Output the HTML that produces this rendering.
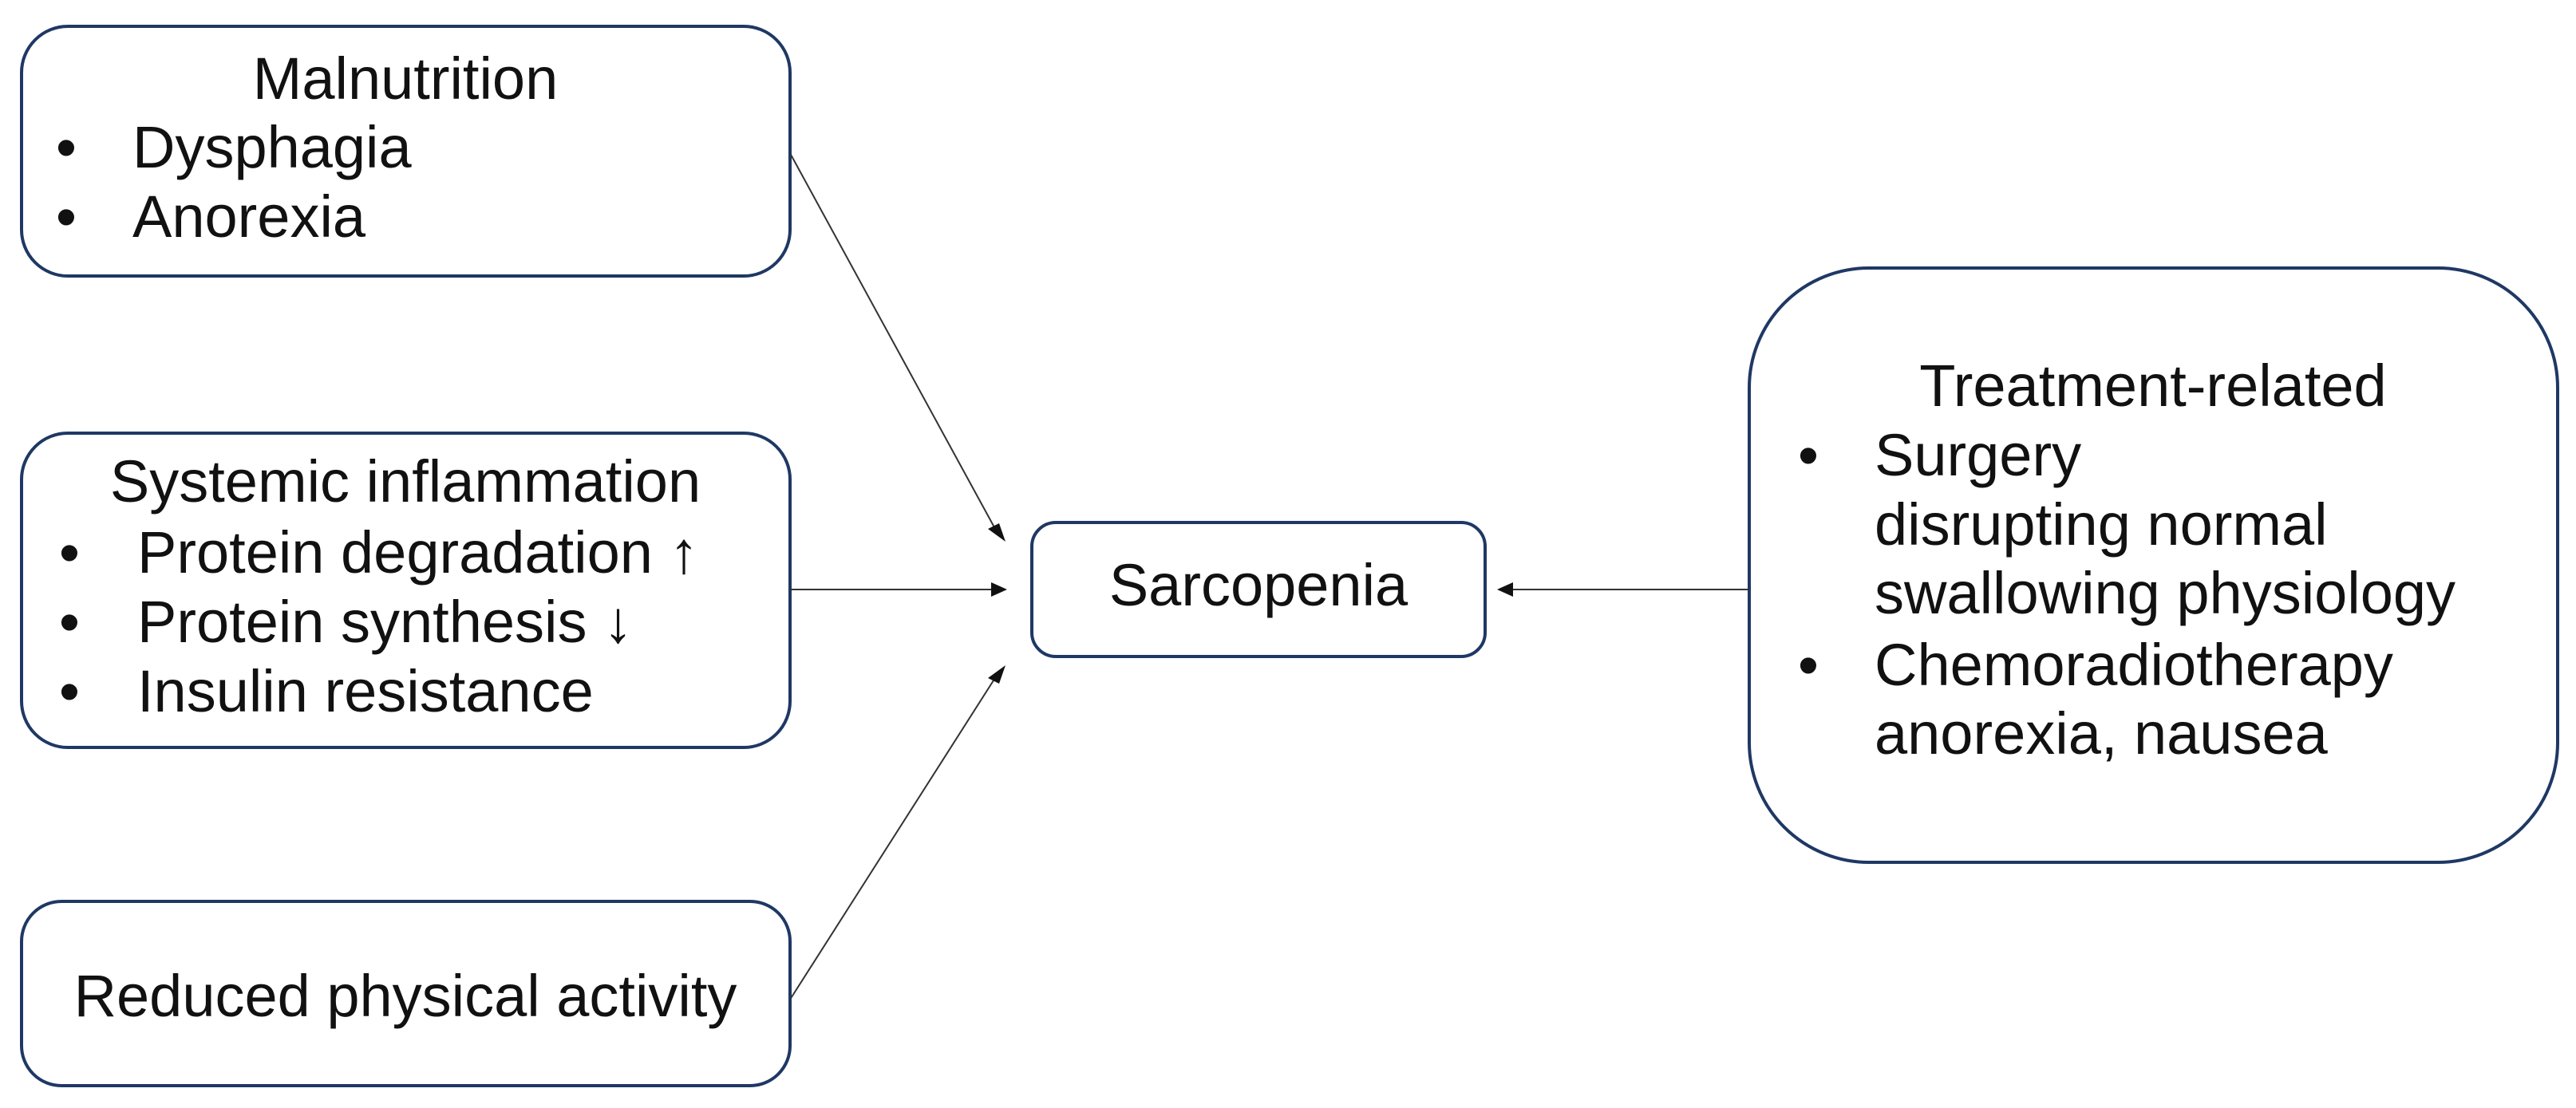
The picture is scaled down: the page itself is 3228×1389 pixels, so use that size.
<!DOCTYPE html>
<html><head><meta charset="utf-8"><style>
html,body{margin:0;padding:0;background:#fff;}
svg{display:block;}
text{font-family:"Liberation Sans","DejaVu Sans",sans-serif;fill:#111;}
</style></head><body>
<svg width="3228" height="1389" viewBox="0 0 3228 1389" xmlns="http://www.w3.org/2000/svg">
<defs>
<marker id="ah" viewBox="0 0 10 10" refX="10" refY="5" markerWidth="8" markerHeight="8" markerUnits="userSpaceOnUse" orient="auto">
</marker>
</defs>
<g fill="#fff" stroke="#1f3864" stroke-width="4">
<rect x="27" y="33" width="963" height="313" rx="58"/>
<rect x="27" y="543" width="963" height="394" rx="58"/>
<rect x="27" y="1130" width="963" height="231" rx="50"/>
<rect x="1293" y="655" width="568" height="168" rx="30"/>
<rect x="2192" y="336" width="1013" height="745" rx="150"/>
</g>
<g stroke="#333" stroke-width="2" fill="none">
<line x1="990" y1="192" x2="1252" y2="672"/>
<line x1="990" y1="739" x2="1250" y2="739"/>
<line x1="990" y1="1253" x2="1252" y2="842"/>
<line x1="2192" y1="739" x2="1882" y2="739"/>
</g>
<g fill="#111">
<polygon points="1260,679 1238,663 1252,656"/>
<polygon points="1262,739 1242,730 1242,748"/>
<polygon points="1260,834 1252,857 1238,850"/>
<polygon points="1876,739 1896,730 1896,748"/>
</g>
<g font-size="74">
<text x="508" y="124" text-anchor="middle">Malnutrition</text>
<text x="70" y="210">•</text><text x="166" y="210">Dysphagia</text>
<text x="70" y="297">•</text><text x="166" y="297">Anorexia</text>

<text x="508" y="629" text-anchor="middle">Systemic inflammation</text>
<text x="74" y="718">•</text><text x="172" y="718">Protein degradation ↑</text>
<text x="74" y="805">•</text><text x="172" y="805">Protein synthesis ↓</text>
<text x="74" y="892">•</text><text x="172" y="892">Insulin resistance</text>

<text x="508" y="1274" text-anchor="middle">Reduced physical activity</text>

<text x="1577" y="759" text-anchor="middle">Sarcopenia</text>

<text x="2698" y="509" text-anchor="middle">Treatment-related</text>
<text x="2253" y="596">•</text><text x="2349" y="596">Surgery</text>
<text x="2349" y="683">disrupting normal</text>
<text x="2349" y="769">swallowing physiology</text>
<text x="2253" y="859">•</text><text x="2349" y="859">Chemoradiotherapy</text>
<text x="2349" y="945">anorexia, nausea</text>
</g>
</svg>
</body></html>
